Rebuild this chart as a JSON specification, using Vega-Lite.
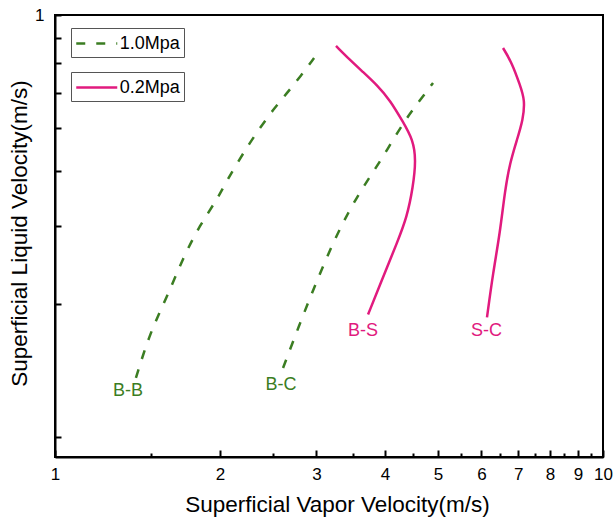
{
  "$schema": "https://vega.github.io/schema/vega-lite/v6.json",
  "width": 548,
  "height": 442,
  "autosize": "none",
  "padding": {"left": 55, "top": 15, "right": 13, "bottom": 61},
  "background": "white",
  "config": {
    "font": "Liberation Sans",
    "view": {"stroke": "#000", "strokeWidth": 2},
    "axis": {
      "grid": false,
      "domainColor": "#000",
      "domainWidth": 2,
      "tickColor": "#000",
      "tickWidth": 2,
      "labelColor": "#000",
      "labelFont": "Liberation Sans",
      "labelFontSize": 17,
      "labelOverlap": false,
      "labelFlush": false,
      "labelBound": false,
      "titleColor": "#000",
      "titleFont": "Liberation Sans",
      "titleFontSize": 22.5,
      "titleFontWeight": "normal"
    },
    "legend": {
      "title": null,
      "orient": "none",
      "symbolType": "M-2,0H2",
      "symbolSize": 420,
      "symbolOffset": 10.25,
      "symbolStrokeWidth": 2.5,
      "symbolFillColor": "transparent",
      "labelFont": "Liberation Sans",
      "labelFontSize": 18,
      "labelColor": "#000",
      "labelOffset": 11.5,
      "padding": 4,
      "strokeColor": "#555",
      "fillColor": "#fff"
    }
  },
  "datasets": {
    "curves": [
      {"series": "B-B", "p": "1.0Mpa", "i": 1, "x": 1.405, "y": 0.151},
      {"series": "B-B", "p": "1.0Mpa", "i": 2, "x": 1.49, "y": 0.191},
      {"series": "B-B", "p": "1.0Mpa", "i": 3, "x": 1.601, "y": 0.23},
      {"series": "B-B", "p": "1.0Mpa", "i": 4, "x": 1.712, "y": 0.282},
      {"series": "B-B", "p": "1.0Mpa", "i": 5, "x": 1.839, "y": 0.335},
      {"series": "B-B", "p": "1.0Mpa", "i": 6, "x": 1.975, "y": 0.382},
      {"series": "B-B", "p": "1.0Mpa", "i": 7, "x": 2.06, "y": 0.423},
      {"series": "B-B", "p": "1.0Mpa", "i": 8, "x": 2.241, "y": 0.503},
      {"series": "B-B", "p": "1.0Mpa", "i": 9, "x": 2.366, "y": 0.555},
      {"series": "B-B", "p": "1.0Mpa", "i": 10, "x": 2.499, "y": 0.61},
      {"series": "B-B", "p": "1.0Mpa", "i": 11, "x": 2.651, "y": 0.666},
      {"series": "B-B", "p": "1.0Mpa", "i": 12, "x": 2.8, "y": 0.724},
      {"series": "B-B", "p": "1.0Mpa", "i": 13, "x": 2.97, "y": 0.799},
      {"series": "B-C", "p": "1.0Mpa", "i": 1, "x": 2.607, "y": 0.159},
      {"series": "B-C", "p": "1.0Mpa", "i": 2, "x": 2.8, "y": 0.201},
      {"series": "B-C", "p": "1.0Mpa", "i": 3, "x": 3.007, "y": 0.251},
      {"series": "B-C", "p": "1.0Mpa", "i": 4, "x": 3.216, "y": 0.305},
      {"series": "B-C", "p": "1.0Mpa", "i": 5, "x": 3.425, "y": 0.357},
      {"series": "B-C", "p": "1.0Mpa", "i": 6, "x": 3.648, "y": 0.408},
      {"series": "B-C", "p": "1.0Mpa", "i": 7, "x": 3.968, "y": 0.477},
      {"series": "B-C", "p": "1.0Mpa", "i": 8, "x": 4.315, "y": 0.57},
      {"series": "B-C", "p": "1.0Mpa", "i": 9, "x": 4.636, "y": 0.642},
      {"series": "B-C", "p": "1.0Mpa", "i": 10, "x": 4.896, "y": 0.702},
      {"series": "B-S", "p": "0.2Mpa", "i": 1, "x": 3.726, "y": 0.21},
      {"series": "B-S", "p": "0.2Mpa", "i": 2, "x": 3.968, "y": 0.255},
      {"series": "B-S", "p": "0.2Mpa", "i": 3, "x": 4.208, "y": 0.305},
      {"series": "B-S", "p": "0.2Mpa", "i": 4, "x": 4.389, "y": 0.349},
      {"series": "B-S", "p": "0.2Mpa", "i": 5, "x": 4.501, "y": 0.408},
      {"series": "B-S", "p": "0.2Mpa", "i": 6, "x": 4.558, "y": 0.47},
      {"series": "B-S", "p": "0.2Mpa", "i": 7, "x": 4.501, "y": 0.522},
      {"series": "B-S", "p": "0.2Mpa", "i": 8, "x": 4.315, "y": 0.573},
      {"series": "B-S", "p": "0.2Mpa", "i": 9, "x": 4.086, "y": 0.642},
      {"series": "B-S", "p": "0.2Mpa", "i": 10, "x": 3.869, "y": 0.694},
      {"series": "B-S", "p": "0.2Mpa", "i": 11, "x": 3.648, "y": 0.743},
      {"series": "B-S", "p": "0.2Mpa", "i": 12, "x": 3.454, "y": 0.791},
      {"series": "B-S", "p": "0.2Mpa", "i": 13, "x": 3.257, "y": 0.851},
      {"series": "S-C", "p": "0.2Mpa", "i": 1, "x": 6.142, "y": 0.207},
      {"series": "S-C", "p": "0.2Mpa", "i": 2, "x": 6.3, "y": 0.261},
      {"series": "S-C", "p": "0.2Mpa", "i": 3, "x": 6.486, "y": 0.321},
      {"series": "S-C", "p": "0.2Mpa", "i": 4, "x": 6.625, "y": 0.402},
      {"series": "S-C", "p": "0.2Mpa", "i": 5, "x": 6.765, "y": 0.463},
      {"series": "S-C", "p": "0.2Mpa", "i": 6, "x": 6.966, "y": 0.522},
      {"series": "S-C", "p": "0.2Mpa", "i": 7, "x": 7.145, "y": 0.579},
      {"series": "S-C", "p": "0.2Mpa", "i": 8, "x": 7.205, "y": 0.642},
      {"series": "S-C", "p": "0.2Mpa", "i": 9, "x": 7.055, "y": 0.694},
      {"series": "S-C", "p": "0.2Mpa", "i": 10, "x": 6.823, "y": 0.779},
      {"series": "S-C", "p": "0.2Mpa", "i": 11, "x": 6.57, "y": 0.842}
    ],
    "tags": [
      {"name": "B-B", "p": "1.0Mpa", "x": 1.359, "y": 0.1411},
      {"name": "B-C", "p": "1.0Mpa", "x": 2.585, "y": 0.1455},
      {"name": "B-S", "p": "0.2Mpa", "x": 3.648, "y": 0.1928},
      {"name": "S-C", "p": "0.2Mpa", "x": 6.13, "y": 0.1928}
    ]
  },
  "encoding": {
    "x": {
      "field": "x",
      "type": "quantitative",
      "scale": {"type": "log", "domain": [1, 10], "nice": false, "zero": false},
      "axis": {
        "title": "Superficial Vapor Velocity(m/s)",
        "titleX": 282,
        "titleY": 54,
        "titleBaseline": "alphabetic",
        "titleAlign": "center",
        "values": [1, 1.5, 2, 2.5, 3, 3.5, 4, 4.5, 5, 5.5, 6, 6.5, 7, 7.5, 8, 8.5, 9, 9.5, 10],
        "labelExpr": "datum.value == round(datum.value) ? format(datum.value, 'd') : ''",
        "tickSize": {"condition": {"test": "datum.value == round(datum.value)", "value": -7}, "value": -4},
        "labelPadding": 16
      }
    },
    "y": {
      "field": "y",
      "type": "quantitative",
      "scale": {"type": "log", "domain": [0.1, 1], "nice": false, "zero": false},
      "axis": {
        "title": "Superficial Liquid Velocity(m/s)",
        "titleX": -29,
        "titleY": 218,
        "titleAngle": -90,
        "titleBaseline": "alphabetic",
        "titleAlign": "center",
        "values": [0.11111, 0.22222, 0.33333, 0.44444, 0.55556, 0.66667, 0.77778, 0.88889, 1],
        "labelExpr": "datum.value == 1 ? '1' : ''",
        "tickSize": -6,
        "labelPadding": 17
      }
    }
  },
  "layer": [
    {
      "data": {"name": "curves"},
      "transform": [{"filter": "datum.p == '1.0Mpa'"}],
      "mark": {"type": "line", "color": "#3b7d22", "strokeWidth": 2.5, "interpolate": "basis"},
      "encoding": {
        "detail": {"field": "series", "type": "nominal"},
        "order": {"field": "i", "type": "quantitative"},
        "strokeDash": {
          "field": "p",
          "type": "nominal",
          "scale": {"domain": ["1.0Mpa"], "range": [[9, 11]]},
          "legend": {
            "legendX": 16,
            "legendY": 13,
            "symbolStrokeColor": "#3b7d22"
          }
        }
      }
    },
    {
      "data": {"name": "curves"},
      "transform": [{"filter": "datum.p == '0.2Mpa'"}],
      "mark": {"type": "line", "strokeWidth": 2.5, "interpolate": "basis"},
      "encoding": {
        "detail": {"field": "series", "type": "nominal"},
        "order": {"field": "i", "type": "quantitative"},
        "stroke": {
          "field": "p",
          "type": "nominal",
          "scale": {"domain": ["0.2Mpa"], "range": ["#e11a7e"]},
          "legend": {
            "legendX": 16,
            "legendY": 57
          }
        }
      }
    },
    {
      "data": {"name": "tags"},
      "mark": {"type": "text", "font": "Liberation Sans", "fontSize": 18, "align": "center", "baseline": "middle"},
      "encoding": {
        "text": {"field": "name", "type": "nominal"},
        "fill": {
          "field": "p",
          "type": "nominal",
          "scale": {"domain": ["1.0Mpa", "0.2Mpa"], "range": ["#3b7d22", "#e11a7e"]},
          "legend": null
        }
      }
    }
  ]
}
